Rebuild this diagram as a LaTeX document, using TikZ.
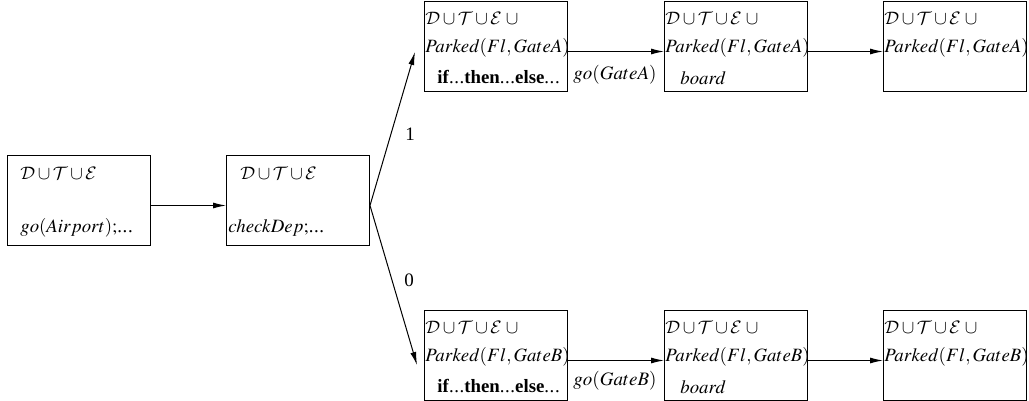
\documentclass[tikz,border=0pt]{standalone}
\usepackage{mathptmx}
\DeclareMathAlphabet{\mathcal}{OMS}{cmsy}{m}{n}
\usepackage[no-math]{fontspec}
\setmainfont{Liberation Serif}
\usetikzlibrary{arrows.meta}
\newcommand\dts{.\kern0.3pt.\kern0.3pt.}
\begin{document}
\begin{tikzpicture}[x=0.5pt,y=-0.5pt,
  box/.style={draw,line width=0.5pt,minimum width=71.5pt,minimum height=45pt,inner sep=0pt,anchor=north west},
  txt/.style={anchor=west,inner sep=0pt,font=\fontsize{9.4}{11}\selectfont},
  lbl/.style={inner sep=0pt,font=\fontsize{9.5}{11}\selectfont},
  arr/.style={-{Latex[length=6.5pt,width=3pt]},line width=0.5pt}]
\useasboundingbox (0,0) rectangle (1029,401);
% boxes
\node[box] (b1) at (7,155) {};
\node[box] (b2) at (226,155) {};
\node[box] (a1) at (424,1) {};
\node[box] (a2) at (664,1) {};
\node[box] (a3) at (883,1) {};
\node[box] (c1) at (424,310) {};
\node[box] (c2) at (664,310) {};
\node[box] (c3) at (883,310) {};
% texts
\node[txt] (t1a) at (20,173) {$\mathcal{D}\cup\mathcal{T}\cup\mathcal{E}$};
\node[txt] (t1b) at (20,228) {$go(Airport);$\dts};
\node[txt] (t2a) at (240,173) {$\mathcal{D}\cup\mathcal{T}\cup\mathcal{E}$};
\node[txt] (t2b) at (228,228) {$checkDep;$\dts};
\foreach \n/\x/\y/\g in {a1/425/18/A,a2/665/18/A,a3/884/18/A,c1/425/327/B,c2/665/327/B,c3/884/327/B}{
  \node[txt] (\n u) at (\x,\y) {$\mathcal{D}\cup\mathcal{T}\cup\mathcal{E}\;\cup$};
  \node[txt] (\n p) at (\x,\y+30) {$Parked(Fl,Gate\g)$};
}
\node[txt] (a1i) at (437,77) {\textbf{if}\dts\textbf{then}\dts\textbf{else}\dts};
\node[txt] (c1i) at (437,386) {\textbf{if}\dts\textbf{then}\dts\textbf{else}\dts};
\node[txt] (a2b) at (680,78) {$board$};
\node[txt] (c2b) at (680,387) {$board$};
% connectors
\draw[arr] ([yshift=-2.5pt]b1.east) -- ([yshift=-2.5pt]b2.west);
\coordinate (fork) at ([yshift=-2.5pt]b2.east);
\coordinate (ta) at (415,52);
\coordinate (tc) at (417,365);
\draw[arr] (fork) -- (ta);
\draw[arr] (fork) -- (tc);
\draw[arr] ([yshift=-2.5pt]a1.east) -- ([yshift=-2.5pt]a2.west);
\draw[arr] ([yshift=-2.5pt]a2.east) -- ([yshift=-2.5pt]a3.west);
\draw[arr] ([yshift=-2.5pt]c1.east) -- ([yshift=-2.5pt]c2.west);
\draw[arr] ([yshift=-2.5pt]c2.east) -- ([yshift=-2.5pt]c3.west);
% labels
\node[lbl] (l1) at (410,134) {1};
\node[lbl] (l0) at (409,280) {0};
\node[lbl] (ga) at (615,75) {$go(GateA)$};
\node[lbl] (gb) at (615,381) {$go(GateB)$};
\end{tikzpicture}
\end{document}
